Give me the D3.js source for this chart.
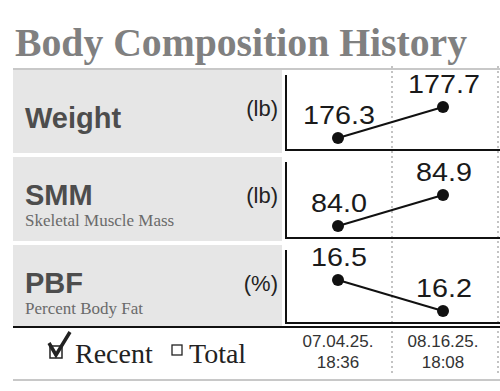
<!DOCTYPE html>
<html>
<head>
<meta charset="utf-8">
<script src="https://cdn.jsdelivr.net/npm/d3@7"></script>
<style>
  body { margin: 0; background: #fff; }
  svg { display: block; }
</style>
</head>
<body>
<svg id="chart"></svg>
<script>
const metrics = ["Weight", "SMM", "PBF"];
const subtitles = ["", "Skeletal Muscle Mass", "Percent Body Fat"];
const units = ["(lb)", "(lb)", "(%)"];
const dates = ["07.04.25.", "08.16.25."];
const times = ["18:36", "18:08"];
const weight = [176.3, 177.7];
const smm = [84.0, 84.9];
const pbf = [16.5, 16.2];
const series = [weight, smm, pbf];

const width = 500, height = 391;
const svg = d3.select("#chart").attr("width", width).attr("height", height);

// title
svg.append("text")
  .attr("x", 15).attr("y", 56)
  .attr("font-family", "Liberation Serif, Times New Roman, serif")
  .attr("font-weight", "bold")
  .attr("font-size", 40)
  .attr("textLength", 452)
  .attr("lengthAdjust", "spacingAndGlyphs")
  .attr("fill", "#808080")
  .text("Body Composition History");

svg.append("line")
  .attr("x1", 13).attr("x2", 500).attr("y1", 69).attr("y2", 69)
  .attr("stroke", "#c8c8c8").attr("stroke-width", 2);

// rows: [top, bottom]
const rows = [[70, 153], [157, 241], [245, 326]];
const axisX = 286;

const x = d3.scalePoint()
  .domain(dates)
  .range([338, 443]);

// dotted column guides
svg.selectAll(".guide")
  .data([392, 498])
  .enter().append("line")
  .attr("x1", d => d).attr("x2", d => d)
  .attr("y1", 66).attr("y2", 376)
  .attr("stroke", "#b0b0b0")
  .attr("stroke-width", 1.5)
  .attr("stroke-dasharray", "2,3");

rows.forEach(([top, bottom], i) => {
  // grey label panel
  svg.append("rect")
    .attr("x", 13).attr("y", top)
    .attr("width", axisX - 13 - 4).attr("height", bottom - top)
    .attr("fill", "#e6e6e6");

  const hasSub = subtitles[i] !== "";
  svg.append("text")
    .attr("x", 25).attr("y", hasSub ? top + 48 : top + 58)
    .attr("font-family", "Liberation Sans, Arial, sans-serif")
    .attr("font-weight", "bold")
    .attr("font-size", 29)
    .attr("fill", "#4d4d4d")
    .text(metrics[i]);

  if (hasSub) {
    svg.append("text")
      .attr("x", 25).attr("y", top + 69)
      .attr("font-family", "Liberation Serif, Times New Roman, serif")
      .attr("font-size", 17)
      .attr("fill", "#6a6a6a")
      .text(subtitles[i]);
  }

  svg.append("text")
    .attr("x", 278).attr("y", top + 46)
    .attr("text-anchor", "end")
    .attr("font-family", "Liberation Sans, Arial, sans-serif")
    .attr("font-size", 22)
    .attr("fill", "#222")
    .text(units[i]);

  // chart axes
  const axisBottom = bottom - 3;
  svg.append("path")
    .attr("d", `M${axisX},${top + 5}V${axisBottom}H${width}`)
    .attr("fill", "none")
    .attr("stroke", "#111")
    .attr("stroke-width", 2);

  const vals = series[i];
  const y = d3.scaleLinear()
    .domain(d3.extent(vals))
    .range([axisBottom - 12, axisBottom - 43]);

  const line = d3.line()
    .x((d, j) => x(dates[j]))
    .y(d => y(d));

  svg.append("path")
    .datum(vals)
    .attr("d", line)
    .attr("fill", "none")
    .attr("stroke", "#111")
    .attr("stroke-width", 2);

  svg.selectAll(".pt" + i)
    .data(vals)
    .enter().append("circle")
    .attr("cx", (d, j) => x(dates[j]))
    .attr("cy", d => y(d))
    .attr("r", 6)
    .attr("fill", "#111");

  // value labels are a bit wider than the plain font
  svg.selectAll(".lbl" + i)
    .data(vals)
    .enter().append("text")
    .attr("transform", (d, j) => `translate(${x(dates[j]) + 1},${y(d) - 14}) scale(1.15,1)`)
    .attr("text-anchor", "middle")
    .attr("font-family", "Liberation Sans, Arial, sans-serif")
    .attr("font-size", 25)
    .attr("fill", "#1a1a1a")
    .text(d => d3.format(".1f")(d));
});

// footer
svg.append("line")
  .attr("x1", 13).attr("x2", 500).attr("y1", 327).attr("y2", 327)
  .attr("stroke", "#111").attr("stroke-width", 2);

svg.append("line")
  .attr("x1", 13).attr("x2", 500).attr("y1", 380).attr("y2", 380)
  .attr("stroke", "#c8c8c8").attr("stroke-width", 2);

// checkbox with tick
svg.append("rect")
  .attr("x", 50).attr("y", 346).attr("width", 12).attr("height", 12)
  .attr("fill", "#fff").attr("stroke", "#222").attr("stroke-width", 1.5);
svg.append("path")
  .attr("d", "M49,343 L56,355 L70,332")
  .attr("fill", "none").attr("stroke", "#222").attr("stroke-width", 3.5);

svg.append("text")
  .attr("x", 75).attr("y", 363)
  .attr("font-family", "Liberation Serif, Times New Roman, serif")
  .attr("font-size", 28)
  .attr("fill", "#222")
  .text("Recent");

svg.append("rect")
  .attr("x", 172).attr("y", 345).attr("width", 10).attr("height", 10)
  .attr("fill", "#fff").attr("stroke", "#222").attr("stroke-width", 1.3);

svg.append("text")
  .attr("x", 189).attr("y", 363)
  .attr("font-family", "Liberation Serif, Times New Roman, serif")
  .attr("font-size", 28)
  .attr("fill", "#222")
  .text("Total");

svg.selectAll(".date")
  .data(dates)
  .enter().append("text")
  .attr("x", d => x(d))
  .attr("y", 347)
  .attr("text-anchor", "middle")
  .attr("font-family", "Liberation Sans, Arial, sans-serif")
  .attr("font-size", 17)
  .attr("fill", "#333")
  .text(d => d);

svg.selectAll(".time")
  .data(times)
  .enter().append("text")
  .attr("x", (d, j) => x(dates[j]))
  .attr("y", 368)
  .attr("text-anchor", "middle")
  .attr("font-family", "Liberation Sans, Arial, sans-serif")
  .attr("font-size", 17)
  .attr("fill", "#333")
  .text(d => d);
</script>
</body>
</html>
